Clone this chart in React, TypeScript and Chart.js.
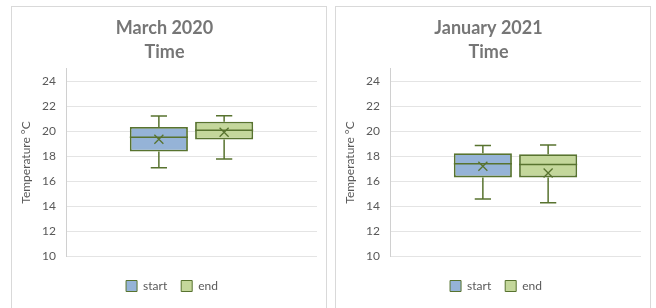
import React, { useEffect, useRef } from "react";
import { Chart, registerables } from "chart.js";

Chart.register(...registerables);

const categories = ["Time"];
const seriesNames = ["start", "end"];
const panelTitles = [["March 2020", "Time"], ["January 2021", "Time"]];
const yTicks = [10, 12, 14, 16, 18, 20, 22, 24];

// [start, end]
const mar2020Min = [17.07, 17.78];
const mar2020Q1 = [18.37, 19.33];
const mar2020Median = [19.52, 20.08];
const mar2020Q3 = [20.35, 20.77];
const mar2020Max = [21.22, 21.25];
const mar2020Mean = [19.36, 19.92];

const jan2021Min = [14.56, 14.27];
const jan2021Q1 = [16.3, 16.3];
const jan2021Median = [17.39, 17.33];
const jan2021Q3 = [18.24, 18.16];
const jan2021Max = [18.85, 18.9];
const jan2021Mean = [17.2, 16.66];

const fills = ["#95b3d7", "#c4d79b"];
const edge = "#58732f";
const FONT = "Lato, 'Open Sans', sans-serif";

type Stats = { min: number[]; q1: number[]; med: number[]; q3: number[]; max: number[]; mean: number[] };

const boxPlugin = {
  id: "boxExtras",
  afterLayout(chart: any) {
    if (chart.legend) {
      chart.legend.left += 15;
    }
  },
  afterDatasetsDraw(chart: any) {
    const stats: Stats = chart.options.plugins.boxExtras.stats;
    const y = chart.scales.y;
    const ctx = chart.ctx;
    ctx.save();
    ctx.strokeStyle = edge;
    ctx.lineWidth = 1.5;
    chart.data.datasets.forEach((_: any, i: number) => {
      const meta = chart.getDatasetMeta(i);
      meta.data.forEach((bar: any) => {
        const x = bar.x;
        const w = bar.width;
        const cap = w * 0.14;
        const py = (v: number) => y.getPixelForValue(v);
        ctx.beginPath();
        ctx.moveTo(x, py(stats.q3[i]));
        ctx.lineTo(x, py(stats.max[i]));
        ctx.moveTo(x - cap, py(stats.max[i]));
        ctx.lineTo(x + cap, py(stats.max[i]));
        ctx.moveTo(x, py(stats.q1[i]));
        ctx.lineTo(x, py(stats.min[i]));
        ctx.moveTo(x - cap, py(stats.min[i]));
        ctx.lineTo(x + cap, py(stats.min[i]));
        ctx.moveTo(x - w / 2, py(stats.med[i]));
        ctx.lineTo(x + w / 2, py(stats.med[i]));
        ctx.stroke();
        const my = py(stats.mean[i]);
        const s = 4.5;
        ctx.beginPath();
        ctx.lineWidth = 1.3;
        ctx.moveTo(x - s, my - s);
        ctx.lineTo(x + s, my + s);
        ctx.moveTo(x + s, my - s);
        ctx.lineTo(x - s, my + s);
        ctx.stroke();
        ctx.lineWidth = 1.5;
      });
    });
    ctx.restore();
  },
};

function BoxPanel({ title, stats, left }: { title: string[]; stats: Stats; left: number }) {
  const ref = useRef<HTMLCanvasElement>(null);
  useEffect(() => {
    if (!ref.current) return;
    const chart = new Chart(ref.current, {
      type: "bar",
      data: {
        labels: categories,
        datasets: seriesNames.map((name, i) => ({
          label: name,
          data: [[stats.q1[i], stats.q3[i]]] as any,
          backgroundColor: fills[i],
          borderColor: edge,
          borderWidth: 1.8,
          borderSkipped: false,
          categoryPercentage: 0.52,
          barPercentage: 0.89,
        })),
      },
      options: {
        animation: false,
        responsive: false,
        layout: { padding: { left: 0, right: 9, top: 0, bottom: 6 } },
        plugins: {
          title: {
            display: true,
            text: title,
            color: "#767676",
            font: { family: FONT, size: 18, weight: "bold", lineHeight: 1.33 },
            padding: { top: 9, bottom: 5 },
          },
          legend: {
            position: "bottom",
            labels: {
              color: "#595959",
              font: { family: FONT, size: 12 },
              boxWidth: 11,
              boxHeight: 11,
              padding: 14,
              generateLabels: () =>
                seriesNames.map((n, i) => ({
                  text: n,
                  fillStyle: fills[i],
                  strokeStyle: edge,
                  lineWidth: 1,
                  datasetIndex: i,
                  fontColor: "#595959",
                })),
            },
          },
          tooltip: { enabled: false },
          boxExtras: { stats },
        } as any,
        scales: {
          x: {
            display: true,
            grid: { display: false },
            border: { display: false },
            ticks: { display: false },
            afterFit: (s: any) => {
              s.height = 10;
            },
          },
          y: {
            min: 10,
            max: 25,
            afterBuildTicks: (s: any) => {
              s.ticks = yTicks.map((v) => ({ value: v }));
            },
            afterFit: (s: any) => {
              s.width = 54;
            },
            grid: { color: "#e4e4e4", drawTicks: false, lineWidth: 1 },
            border: { display: true, color: "#d0d0d0", width: 1 },
            ticks: {
              color: "#595959",
              font: { family: FONT, size: 12 },
              padding: 10,
            },
            title: {
              display: true,
              text: "Temperature °C",
              color: "#595959",
              font: { family: FONT, size: 12 },
              padding: { top: 7, bottom: 0 },
            },
          },
        },
      },
      plugins: [boxPlugin],
    });
    return () => chart.destroy();
  }, []);
  return (
    <div
      style={{
        position: "absolute",
        left,
        top: 6,
        width: 316,
        height: 320,
        border: "1px solid #d9d9d9",
        boxSizing: "border-box",
        background: "#fff",
      }}
    >
      <canvas ref={ref} width={314} height={301} style={{ display: "block", width: 314, height: 301 }} />
    </div>
  );
}

export default function App() {
  const mar: Stats = { min: mar2020Min, q1: mar2020Q1, med: mar2020Median, q3: mar2020Q3, max: mar2020Max, mean: mar2020Mean };
  const jan: Stats = { min: jan2021Min, q1: jan2021Q1, med: jan2021Median, q3: jan2021Q3, max: jan2021Max, mean: jan2021Mean };
  return (
    <div style={{ position: "fixed", left: 0, top: 0, width: 656, height: 308, overflow: "hidden", background: "#fff" }}>
      <BoxPanel title={panelTitles[0]} stats={mar} left={11} />
      <BoxPanel title={panelTitles[1]} stats={jan} left={335} />
    </div>
  );
}
